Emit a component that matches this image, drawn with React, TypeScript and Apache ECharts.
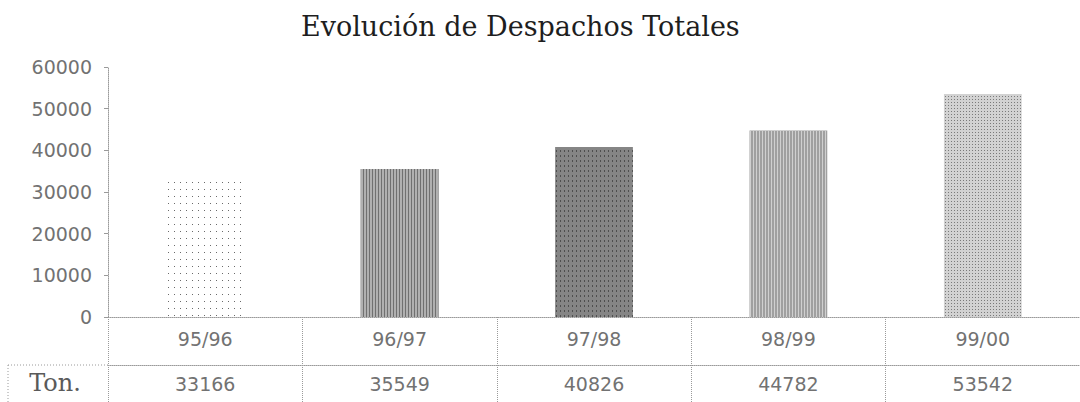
import React, { useEffect, useRef } from "react";
import * as echarts from "echarts";

const titleText = "Evolución de Despachos Totales";
const categories = ["95/96", "96/97", "97/98", "98/99", "99/00"];
const tonnes = [33166, 35549, 40826, 44782, 53542];
const yTicks = { min: 0, max: 60000, interval: 10000 };
const rowLabel = "Ton.";

const barStyles = [
  { color: "#ffffff", decal: { symbol: "rect", symbolSize: 1, color: "#6a6a6a", dashArrayX: [1, 5], dashArrayY: [1, 6] } },
  { color: "#b0b0b0", decal: { symbol: "rect", symbolSize: 1, color: "#707070", dashArrayX: [1, 2], dashArrayY: [1, 0] } },
  { color: "#858585", decal: { symbol: "rect", symbolSize: 1, color: "#4e4e4e", dashArrayX: [1, 3], dashArrayY: [2, 3] } },
  { color: "#a0a0a0", decal: { symbol: "rect", symbolSize: 1, color: "#d0d0d0", dashArrayX: [1, 2], dashArrayY: [1, 0] } },
  { color: "#d2d2d2", decal: { symbol: "rect", symbolSize: 1, color: "#7a7a7a", dashArrayX: [1, 2], dashArrayY: [1, 2] } },
];

const gray = "#9a9a9a";
const textGray = "#727272";

export default function App() {
  const ref = useRef<HTMLDivElement>(null);
  useEffect(() => {
    if (!ref.current) return;
    const chart = echarts.init(ref.current, undefined, { renderer: "svg" });
    chart.setOption({
      animation: false,
      backgroundColor: "#ffffff",
      title: {
        text: titleText,
        left: 296,
        top: 8,
        textStyle: { fontFamily: "DejaVu Serif", fontSize: 27, fontWeight: "normal", color: "#1e1e1e" },
      },
      grid: { left: 108, top: 67, width: 985, height: 250, containLabel: false },
      xAxis: [
        {
          type: "category",
          data: categories,
          position: "bottom",
          axisLine: { show: true, lineStyle: { color: gray, type: "dotted", width: 1 } },
          axisTick: { show: true, interval: 0, alignWithLabel: false, length: 85, lineStyle: { color: gray, type: "dotted" } },
          axisLabel: { margin: 12, color: textGray, fontFamily: "DejaVu Sans", fontSize: 19 },
        },
        {
          type: "category",
          data: tonnes.map(String),
          position: "bottom",
          offset: 48,
          axisLine: { show: true, lineStyle: { color: gray, type: "dotted", width: 1 } },
          axisTick: { show: false },
          axisLabel: { margin: 9, color: textGray, fontFamily: "DejaVu Sans", fontSize: 19 },
        },
      ],
      yAxis: {
        type: "value",
        min: yTicks.min,
        max: yTicks.max,
        interval: yTicks.interval,
        axisLine: { show: true, lineStyle: { color: gray, type: "dotted" } },
        axisTick: { show: true, length: 4, lineStyle: { color: gray } },
        splitLine: { show: false },
        axisLabel: { margin: 16, color: textGray, fontFamily: "DejaVu Sans", fontSize: 19, formatter: (v: number) => String(v) },
      },
      series: [
        {
          type: "bar",
          xAxisIndex: 0,
          barWidth: "40%",
          data: tonnes.map((v, i) => ({ value: v, itemStyle: barStyles[i] })),
        },
      ],
      graphic: [
        { type: "line", shape: { x1: 8, y1: 365, x2: 108, y2: 365 }, style: { stroke: gray, lineDash: [1, 2], lineWidth: 1 } },
        { type: "line", shape: { x1: 8, y1: 365, x2: 8, y2: 402 }, style: { stroke: gray, lineDash: [1, 2], lineWidth: 1 } },
        {
          type: "text",
          x: 55,
          y: 383,
          style: {
            text: rowLabel,
            fontFamily: "DejaVu Serif",
            fontSize: 24,
            fill: "#5a5a5a",
            align: "center",
            verticalAlign: "middle",
          },
        },
      ],
    });
    return () => chart.dispose();
  }, []);
  return <div ref={ref} style={{ position: "absolute", left: 0, top: 0, width: 1080, height: 402 }} />;
}
